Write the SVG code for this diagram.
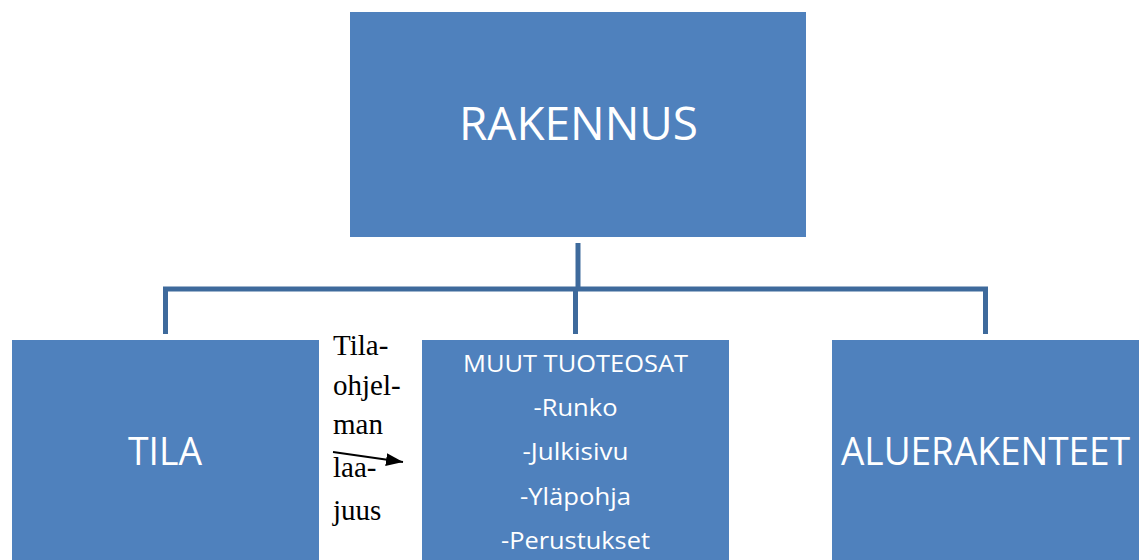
<svg xmlns="http://www.w3.org/2000/svg" width="1141" height="560" viewBox="0 0 1141 560">
  <style>
    .box { fill: #4F81BD; }
    .lbl { fill: #FFFFFF; font-family: "Open Sans", "Liberation Sans", sans-serif; text-anchor: middle; }
    .conn { fill: none; stroke: #3E6A9C; stroke-width: 5; stroke-linecap: butt; stroke-linejoin: miter; }
    .note { fill: #000000; font-family: "Liberation Serif", "Times New Roman", serif; font-size: 29px; }
  </style>
  <defs>
    <marker id="arrowhead" viewBox="0 0 10 10" refX="10" refY="5" markerWidth="17" markerHeight="13" markerUnits="userSpaceOnUse" orient="auto" preserveAspectRatio="none">
      <path d="M0,0 L10,5 L0,10 Z" fill="#000000"/>
    </marker>
  </defs>
  <rect width="1141" height="560" fill="#FFFFFF"/>

  <g id="connectors">
    <path class="conn" d="M578,243 V289"/>
    <path class="conn" d="M165.5,334 V289 H985.5 V334"/>
    <path class="conn" d="M575.5,289 V334"/>
  </g>

  <g id="node-rakennus">
    <rect class="box" x="350" y="12" width="456" height="225"/>
    <text class="lbl" x="578.5" y="140" font-size="46" textLength="239" lengthAdjust="spacingAndGlyphs">RAKENNUS</text>
  </g>

  <g id="node-tila">
    <rect class="box" x="12" y="340" width="307" height="220"/>
    <text class="lbl" x="165" y="465" font-size="38" textLength="74" lengthAdjust="spacingAndGlyphs">TILA</text>
  </g>

  <g id="node-muut">
    <rect class="box" x="422" y="340" width="307" height="220"/>
    <text class="lbl" x="575.5" y="372" font-size="24" textLength="225" lengthAdjust="spacingAndGlyphs">MUUT TUOTEOSAT</text>
    <text class="lbl" x="575.5" y="416" font-size="24" textLength="84" lengthAdjust="spacingAndGlyphs">-Runko</text>
    <text class="lbl" x="575.5" y="460" font-size="24" textLength="106" lengthAdjust="spacingAndGlyphs">-Julkisivu</text>
    <text class="lbl" x="575.5" y="505" font-size="24" textLength="111" lengthAdjust="spacingAndGlyphs">-Yläpohja</text>
    <text class="lbl" x="575.5" y="549" font-size="24" textLength="149" lengthAdjust="spacingAndGlyphs">-Perustukset</text>
  </g>

  <g id="node-aluerakenteet">
    <rect class="box" x="832" y="340" width="307" height="220"/>
    <text class="lbl" x="985.5" y="465" font-size="38" textLength="289" lengthAdjust="spacingAndGlyphs">ALUERAKENTEET</text>
  </g>

  <g id="note-tilaohjelman-laajuus">
    <text class="note" x="333" y="355">Tila-</text>
    <text class="note" x="333" y="395">ohjel-</text>
    <text class="note" x="333" y="434">man</text>
    <text class="note" x="333" y="477">laa-</text>
    <text class="note" x="333" y="520">juus</text>
    <line x1="333" y1="452" x2="403" y2="462" stroke="#000000" stroke-width="1.8" marker-end="url(#arrowhead)"/>
  </g>
</svg>
